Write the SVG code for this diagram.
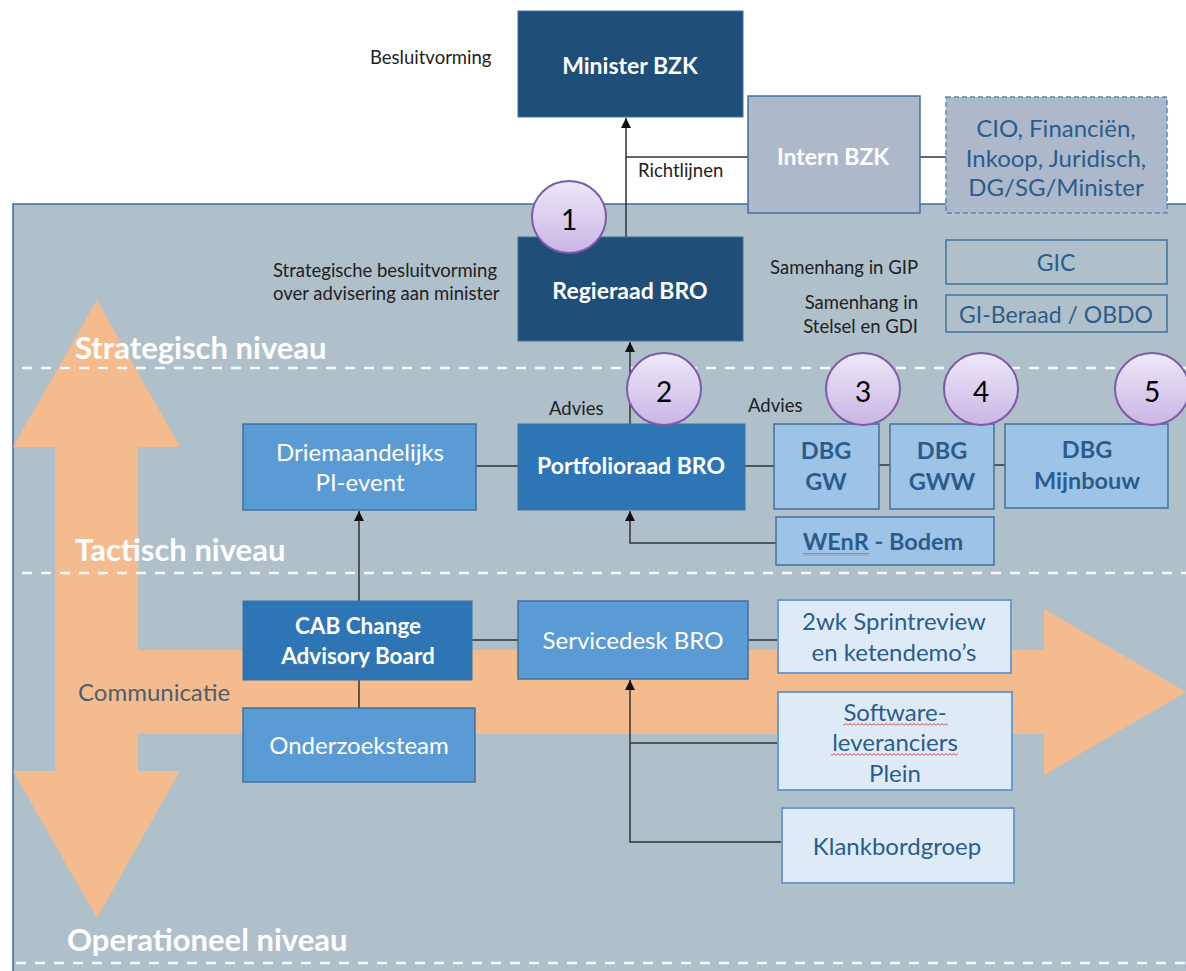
<svg xmlns="http://www.w3.org/2000/svg" width="1186" height="971" viewBox="0 0 1186 971">
<defs>
<style>
text{font-family:Lato,"Liberation Sans",sans-serif;dominant-baseline:central}
.lbl{font-size:18.5px;fill:#222}
.wb{font-size:23px;font-weight:bold;fill:#fff;text-anchor:middle}
.wr{font-size:24px;fill:#fff;text-anchor:middle}
.db{font-size:23.5px;font-weight:bold;fill:#2B5C8C;text-anchor:middle}
.dr{font-size:24px;fill:#2B5C8C;text-anchor:middle}
.lvl{font-size:31px;font-weight:bold;fill:#fff}
.num{font-size:28px;fill:#000;text-anchor:middle}
.navy{fill:#1F4E79;stroke:#41719C;stroke-width:1}
.mid{fill:#2E75B6;stroke:#41719C;stroke-width:1}
.med{fill:#5B9BD5;stroke:#41719C;stroke-width:1.5}
.lt{fill:#9DC3E6;stroke:#41719C;stroke-width:1.5}
.vlt{fill:#DEEBF7;stroke:#6C9BD0;stroke-width:2}
.gr{fill:#ADB9CA;stroke:#41719C;stroke-width:1.5}
.out{fill:none;stroke:#41719C;stroke-width:1.5}
.conn{fill:none;stroke:#333;stroke-width:1.5}
.dash{stroke:#fff;stroke-width:2.5;stroke-dasharray:10 9;opacity:0.9}
.circ{fill:url(#lav);stroke:#7C5BA6;stroke-width:2}
</style>
<linearGradient id="lav" x1="0" y1="0" x2="0" y2="1">
<stop offset="0" stop-color="#EEE8F8"/>
<stop offset="1" stop-color="#C9B5E5"/>
</linearGradient>
<marker id="arr" viewBox="0 0 10 10" refX="10" refY="5" markerWidth="10" markerHeight="10" markerUnits="userSpaceOnUse" orient="auto">
<path d="M0,0 L10,5 L0,10 z" fill="#111"/>
</marker>
<pattern id="wavy" width="4" height="3" patternUnits="userSpaceOnUse">
<path d="M0,2.5 L2,0.5 L4,2.5" fill="none" stroke="#E02020" stroke-width="0.9"/>
</pattern>
</defs>
<rect x="0" y="0" width="1186" height="971" fill="#fff"/>
<rect x="13" y="204" width="1180" height="775" fill="#AFC0CB" stroke="#3A6EA5" stroke-width="1.5"/>
<path d="M97,300 L180,447 L138,447 L138,650 L1044,650 L1044,609 L1186,692 L1044,775 L1044,734 L138,734 L138,771 L180,771 L97,918 L13,771 L55,771 L55,447 L13,447 Z" fill="#F4BB8F"/>
<line class="dash" x1="22" y1="368" x2="1186" y2="368"/>
<line class="dash" x1="22" y1="573" x2="1186" y2="573"/>
<line class="dash" x1="16" y1="963" x2="1186" y2="963"/>
<text class="lvl" x="75" y="347">Strategisch niveau</text>
<text class="lvl" x="75" y="549">Tactisch niveau</text>
<text class="lvl" x="67" y="939">Operationeel niveau</text>
<text x="78" y="691" style="font-size:24px;fill:#4F5E6E">Communicatie</text>
<text class="lbl" x="370" y="57">Besluitvorming</text>
<text class="lbl" x="273" y="270">Strategische besluitvorming</text>
<text class="lbl" x="273" y="293">over advisering aan minister</text>
<text class="lbl" x="918" y="267" text-anchor="end">Samenhang in GIP</text>
<text class="lbl" x="918" y="302" text-anchor="end">Samenhang in</text>
<text class="lbl" x="918" y="326" text-anchor="end">Stelsel en GDI</text>
<text class="lbl" x="638" y="170">Richtlijnen</text>
<text class="lbl" x="549" y="408">Advies</text>
<text class="lbl" x="748" y="405">Advies</text>
<g id="connectors">
<line class="conn" x1="626" y1="237" x2="626" y2="118" marker-end="url(#arr)"/>
<line class="conn" x1="626" y1="157" x2="748" y2="157"/>
<line class="conn" x1="920" y1="157" x2="946" y2="157"/>
<line class="conn" x1="630" y1="424" x2="630" y2="342" marker-end="url(#arr)"/>
<line class="conn" x1="476" y1="466" x2="518" y2="466"/>
<line class="conn" x1="745" y1="466" x2="774" y2="466"/>
<line class="conn" x1="879" y1="465" x2="890" y2="465"/>
<line class="conn" x1="994" y1="465" x2="1005" y2="465"/>
<path class="conn" d="M776,543 L630,543 L630,511" marker-end="url(#arr)"/>
<line class="conn" x1="359" y1="601" x2="359" y2="511" marker-end="url(#arr)"/>
<line class="conn" x1="472" y1="640" x2="518" y2="640"/>
<line class="conn" x1="748" y1="640" x2="778" y2="640"/>
<path class="conn" d="M782,842 L630,842 L630,680" marker-end="url(#arr)"/>
<line class="conn" x1="630" y1="743" x2="778" y2="743"/>
<line class="conn" x1="359" y1="680" x2="359" y2="708"/>
</g>
<g id="minister"><rect class="navy" x="518" y="11" width="225" height="106"/><text class="wb" x="630" y="65">Minister BZK</text></g>
<g id="intern"><rect class="gr" x="748" y="96" width="172" height="117"/><text class="wb" x="833" y="156">Intern BZK</text></g>
<g id="cio"><rect x="946" y="97" width="221" height="116" fill="#ADB9CA" stroke="#5B87B5" stroke-width="1.5" stroke-dasharray="5 3"/>
<text class="dr" x="1056" y="127">CIO, Financiën,</text><text class="dr" x="1056" y="157">Inkoop, Juridisch,</text><text class="dr" x="1056" y="186">DG/SG/Minister</text></g>
<g id="regieraad"><rect class="navy" x="518" y="237" width="225" height="104"/><text class="wb" x="630" y="290">Regieraad BRO</text></g>
<g id="gic"><rect class="out" x="946" y="240" width="221" height="44"/><text class="dr" x="1056" y="262" style="font-size:23px">GIC</text></g>
<g id="giberaad"><rect class="out" x="946" y="295" width="221" height="37"/><text class="dr" x="1056" y="314" style="font-size:23px">GI-Beraad / OBDO</text></g>
<g id="pi"><rect class="med" x="243" y="424" width="233" height="86"/><text class="wr" x="360" y="451">Driemaandelijks</text><text class="wr" x="360" y="481">PI-event</text></g>
<g id="portfolio"><rect class="mid" x="518" y="424" width="227" height="86"/><text class="wb" x="631" y="465">Portfolioraad BRO</text></g>
<g id="dbggw"><rect class="lt" x="774" y="424" width="105" height="85"/><text class="db" x="826" y="450">DBG</text><text class="db" x="826" y="481">GW</text></g>
<g id="dbggww"><rect class="lt" x="890" y="424" width="104" height="85"/><text class="db" x="942" y="450">DBG</text><text class="db" x="942" y="481">GWW</text></g>
<g id="dbgmijn"><rect class="lt" x="1005" y="424" width="163" height="84"/><text class="db" x="1087" y="449">DBG</text><text class="db" x="1087" y="480">Mijnbouw</text></g>
<g id="wenr"><rect class="lt" x="776" y="517" width="218" height="48"/><text class="db" x="883" y="541">WEnR - Bodem</text><rect x="803" y="553" width="66" height="3" fill="url(#wavy)"/></g>
<g id="cab"><rect class="mid" x="243" y="601" width="229" height="79"/><text class="wb" x="358" y="625" style="font-size:22.5px">CAB Change</text><text class="wb" x="358" y="655" style="font-size:22.5px">Advisory Board</text><rect x="275" y="667" width="98" height="3" fill="url(#wavy)"/></g>
<g id="servicedesk"><rect class="med" x="518" y="601" width="230" height="78"/><text class="wr" x="633" y="639">Servicedesk BRO</text></g>
<g id="sprint"><rect class="vlt" x="778" y="600" width="233" height="73"/><text class="dr" x="894" y="620">2wk Sprintreview</text><text class="dr" x="894" y="651">en ketendemo’s</text></g>
<g id="software"><rect class="vlt" x="778" y="692" width="234" height="98"/><text class="dr" x="895" y="711">Software-</text><text class="dr" x="895" y="741">leveranciers</text><text class="dr" x="895" y="772">Plein</text>
<rect x="843" y="723" width="105" height="3" fill="url(#wavy)"/><rect x="831" y="753" width="127" height="3" fill="url(#wavy)"/></g>
<g id="klankbord"><rect class="vlt" x="782" y="808" width="232" height="75"/><text class="dr" x="897" y="845">Klankbordgroep</text></g>
<g id="onderzoek"><rect class="med" x="243" y="708" width="232" height="74"/><text class="wr" x="359" y="744">Onderzoeksteam</text></g>
<g id="c1"><ellipse class="circ" cx="569" cy="217" rx="37" ry="36"/><text class="num" x="569" y="219">1</text></g>
<g id="c2"><ellipse class="circ" cx="664" cy="389" rx="37" ry="36"/><text class="num" x="664" y="391">2</text></g>
<g id="c3"><ellipse class="circ" cx="863" cy="389" rx="37" ry="36"/><text class="num" x="863" y="391">3</text></g>
<g id="c4"><ellipse class="circ" cx="981" cy="389" rx="37" ry="36"/><text class="num" x="981" y="391">4</text></g>
<g id="c5"><ellipse class="circ" cx="1152" cy="389" rx="37" ry="36"/><text class="num" x="1152" y="391">5</text></g>
</svg>
